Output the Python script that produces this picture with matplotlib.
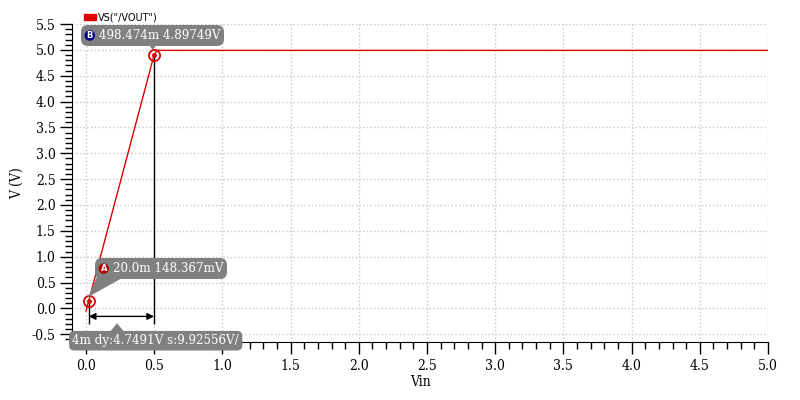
import matplotlib.pyplot as plt
from matplotlib.patches import Patch, Circle, Polygon
from matplotlib.ticker import MultipleLocator
from matplotlib.offsetbox import AnnotationBbox, HPacker, TextArea, DrawingArea

# sweep data
vin = [0.0, 0.020, 0.498474, 0.52, 5.0]
vout = [-0.05, 0.148367, 4.89749, 4.99, 4.99]

# cursor points
cur_x = [0.020, 0.498474]
cur_y = [0.148367, 4.89749]
cur_names = ["A", "B"]
cur_labels = ["20.0m 148.367mV", "498.474m 4.89749V"]
delta_label = "4m dy:4.7491V s:9.92556V/"

serif = dict(family="DejaVu Serif", stretch="condensed")
GRAY = "#808080"
ANN_FS = 9.5

fig = plt.figure(figsize=(8, 4), dpi=100)
ax = fig.add_axes([0.0905, 0.145, 0.8695, 0.795])

ax.plot(vin, vout, color="#e00000", lw=1)

ax.set_xlim(-0.1, 5.0)
ax.set_ylim(-0.65, 5.5)
ax.xaxis.set_major_locator(MultipleLocator(0.5))
ax.xaxis.set_minor_locator(MultipleLocator(0.1))
ax.yaxis.set_major_locator(MultipleLocator(0.5))
ax.yaxis.set_minor_locator(MultipleLocator(0.1))
ax.xaxis.set_major_formatter(lambda v, p: f"{v:.1f}")
ax.yaxis.set_major_formatter(lambda v, p: f"{v:.1f}")
ax.tick_params(which="major", length=8.5, width=1, direction="out")
ax.tick_params(which="minor", length=5, width=1, direction="out")
for lbl in ax.get_xticklabels() + ax.get_yticklabels():
    lbl.set_fontproperties(serif)
    lbl.set_fontsize(10)
ax.spines["top"].set_visible(False)
ax.spines["right"].set_visible(False)
ax.grid(True, which="major", color="#c8c8c8", ls=":", lw=1)

ax.set_xlabel("Vin", fontsize=10, labelpad=2, **serif)
ax.set_ylabel("V (V)", fontsize=10, labelpad=6, **serif)

# cursor markers and drop lines
ax.vlines(cur_x, -0.3, cur_y, color="black", lw=1, zorder=3)
ax.plot(cur_x, cur_y, "o", mfc="none", mec="#e00000", mew=1.3, ms=8, zorder=4)
ax.plot(cur_x, cur_y, "o", color="#e00000", ms=2.5, zorder=4)

# delta arrow
ax.annotate("", xy=(cur_x[0], -0.155), xytext=(cur_x[1], -0.155),
            arrowprops=dict(arrowstyle="<|-|>", color="black", lw=1,
                            shrinkA=0, shrinkB=0, mutation_scale=10))


def cursor_label(name, col, text):
    da = DrawingArea(7.5, 7.5, 0, 0)
    da.add_artist(Circle((3.75, 3.75), 3.75, fc=col, ec="none"))
    da.add_artist(plt.Text(3.75, 3.6, name, ha="center", va="center", color="white",
                           fontsize=6, fontweight="bold", family="DejaVu Sans"))
    ta = TextArea(text, textprops=dict(color="white", fontsize=ANN_FS, **serif))
    return HPacker(children=[da, ta], align="center", pad=0, sep=3)


# label box centres
box_xy = [(0.55, 0.768), (0.4875, 5.277)]
badge_cols = ["#b00000", "#000090"]
for name, col, text, bxy in zip(cur_names, badge_cols, cur_labels, box_xy):
    ab = AnnotationBbox(cursor_label(name, col, text), bxy, xycoords="data",
                        pad=0, fontsize=10, frameon=True,
                        bboxprops=dict(boxstyle="round,pad=0.27,rounding_size=0.5",
                                       fc=GRAY, ec="none"),
                        zorder=6)
    ax.add_artist(ab)

# callout tails (box edge -> cursor)
tails = [
    [(0.081, 0.62), (0.286, 0.62), (cur_x[0] - 0.005, cur_y[0] + 0.07)],
    [(0.447, 5.15), (0.528, 5.15), (cur_x[1] - 0.01, cur_y[1] + 0.1)],
    [(0.176, -0.45), (0.279, -0.45), (0.227, -0.287)],
]
for pts in tails:
    ax.add_patch(Polygon(pts, closed=True, fc=GRAY, ec="none", zorder=5, clip_on=False))

# delta label
ax.text(-0.1, -0.625, delta_label, ha="left", va="center", color="white", fontsize=ANN_FS,
        bbox=dict(boxstyle="round,pad=0.25,rounding_size=0.4", fc=GRAY, ec="none"),
        zorder=6, clip_on=False, **serif)

# legend
ax.legend(handles=[Patch(color="#e00000", label='VS("/VOUT")')],
          loc="lower left", bbox_to_anchor=(0.017, 1.005), frameon=False,
          fontsize=7, handlelength=1.2, handleheight=0.62, handletextpad=0.25,
          borderpad=0, borderaxespad=0)

fig.savefig("out.png", dpi=100)
